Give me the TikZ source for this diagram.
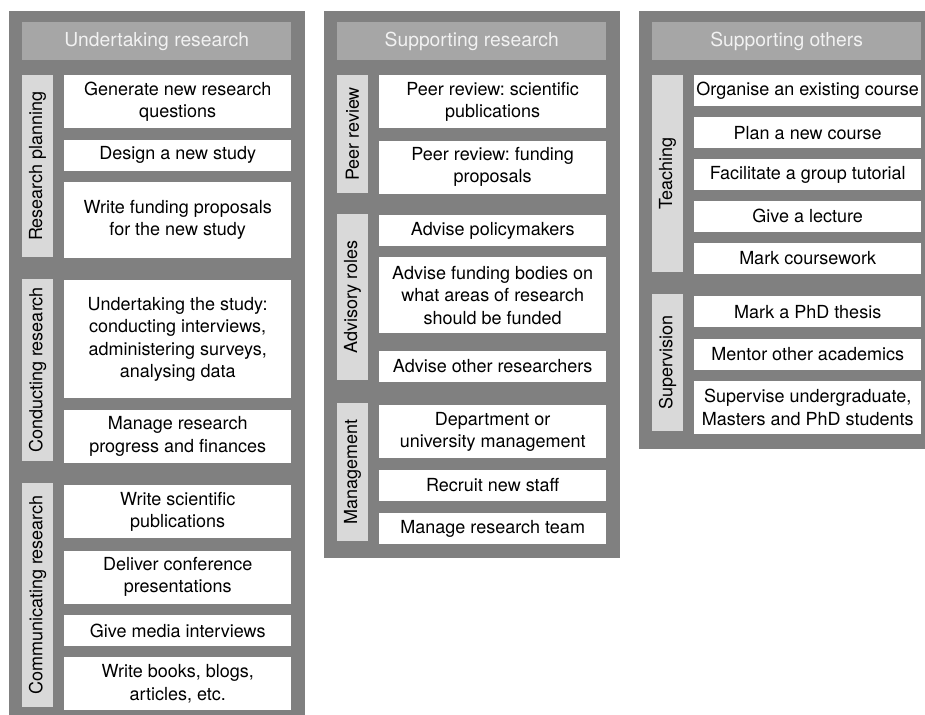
\documentclass[tikz,border=0pt]{standalone}
\usepackage{fontspec}
\setmainfont{TeX Gyre Heros}
\usepackage{xcolor}
\usetikzlibrary{positioning}

\definecolor{panelgrey}{HTML}{808080}
\definecolor{headgrey}{HTML}{A6A6A6}
\definecolor{headtext}{HTML}{F2F2F2}
\definecolor{sidegrey}{HTML}{D9D9D9}

\begin{document}
\frenchspacing
\begin{tikzpicture}[x=1pt, y=-1pt, node distance=11pt,
    font=\fontsize{18}{22.5}\selectfont,
    panel/.style={rectangle, fill=panelgrey, minimum width=296pt, anchor=north west, inner sep=0pt},
    header/.style={rectangle, fill=headgrey, text=headtext, minimum width=269pt, minimum height=38pt, anchor=north west, inner sep=0pt, font=\fontsize{19.3}{23}\selectfont},
    sidebox/.style={rectangle, fill=sidegrey, rotate=90, minimum height=31pt, inner sep=0pt},
    task/.style={rectangle, fill=white, minimum width=227pt, inner sep=0pt, align=center, minimum height=31pt},
    task2/.style={task, minimum height=53pt}]

    \useasboundingbox (0,0) rectangle (925,714);

    % Undertaking research
    \node [panel, minimum height=710pt] (undpanel) at (9,11) {};
    \node [header] (undhead) at (22,22) {Undertaking research};
    \node [task2, anchor=north west] (genq) at (64,75) {Generate new research\\questions};
    \node [task, below=of genq] (design) {Design a new study};
    \node [task, below=of design, minimum height=76pt] (writefund) {Write funding proposals\\for the new study};
    \node [task, below=22pt of writefund, minimum height=118pt] (undstudy) {Undertaking the study:\\conducting interviews,\\administering surveys,\\analysing data};
    \node [task2, below=of undstudy] (manage) {Manage research\\progress and finances};
    \node [task2, below=22pt of manage] (writesci) {Write scientific\\publications};
    \node [task2, below=12pt of writesci] (deliver) {Deliver conference\\presentations};
    \node [task, below=of deliver] (media) {Give media interviews};
    \node [task2, below=of media] (books) {Write books, blogs,\\articles, etc.};

    \node [sidebox, minimum width=182pt] (planning) at (37.5,166) {Research planning};
    \node [sidebox, minimum width=182pt] (conducting) at (37.5,370) {Conducting research};
    \node [sidebox, minimum width=224pt] (communicating) at (37.5,595) {Communicating research};

    % Supporting research
    \node [panel, minimum height=547pt] (suppanel) at (324,11) {};
    \node [header] (suphead) at (337,22) {Supporting research};
    \node [task2, anchor=north west] (peersci) at (379,75) {Peer review: scientific\\publications};
    \node [task2, below=12pt of peersci] (peerfund) {Peer review: funding\\proposals};
    \node [task, below=21pt of peerfund] (advpol) {Advise policymakers};
    \node [task, below=of advpol, minimum height=76pt] (advfund) {Advise funding bodies on\\what areas of research\\should be funded};
    \node [task, below=17pt of advfund] (advother) {Advise other researchers};
    \node [task2, below=23pt of advother] (dept) {Department or\\university management};
    \node [task, below=of dept] (recruit) {Recruit new staff};
    \node [task, below=12pt of recruit] (team) {Manage research team};

    \node [sidebox, minimum width=118pt] (peer) at (352.5,134) {Peer review};
    \node [sidebox, minimum width=166pt] (advisory) at (352.5,297) {Advisory roles};
    \node [sidebox, minimum width=138pt] (management) at (352.5,472) {Management};

    % Supporting others
    \node [panel, minimum height=438pt] (othpanel) at (639,11) {};
    \node [header] (othhead) at (652,22) {Supporting others};
    \node [task, anchor=north west] (organise) at (694,75) {Organise an existing course};
    \node [task, below=10.5pt of organise] (newcourse) {Plan a new course};
    \node [task, below=10.5pt of newcourse] (tutorial) {Facilitate a group tutorial};
    \node [task, below=10.5pt of tutorial] (lecture) {Give a lecture};
    \node [task, below=10.5pt of lecture] (coursework) {Mark coursework};
    \node [task, below=22pt of coursework] (phdthesis) {Mark a PhD thesis};
    \node [task, below=of phdthesis] (mentor) {Mentor other academics};
    \node [task2, below=of mentor] (supervise) {Supervise undergraduate,\\Masters and PhD students};

    \node [sidebox, minimum width=197pt] (teaching) at (667.5,173.5) {Teaching};
    \node [sidebox, minimum width=137pt] (supervision) at (667.5,362.5) {Supervision};
\end{tikzpicture}
\end{document}
